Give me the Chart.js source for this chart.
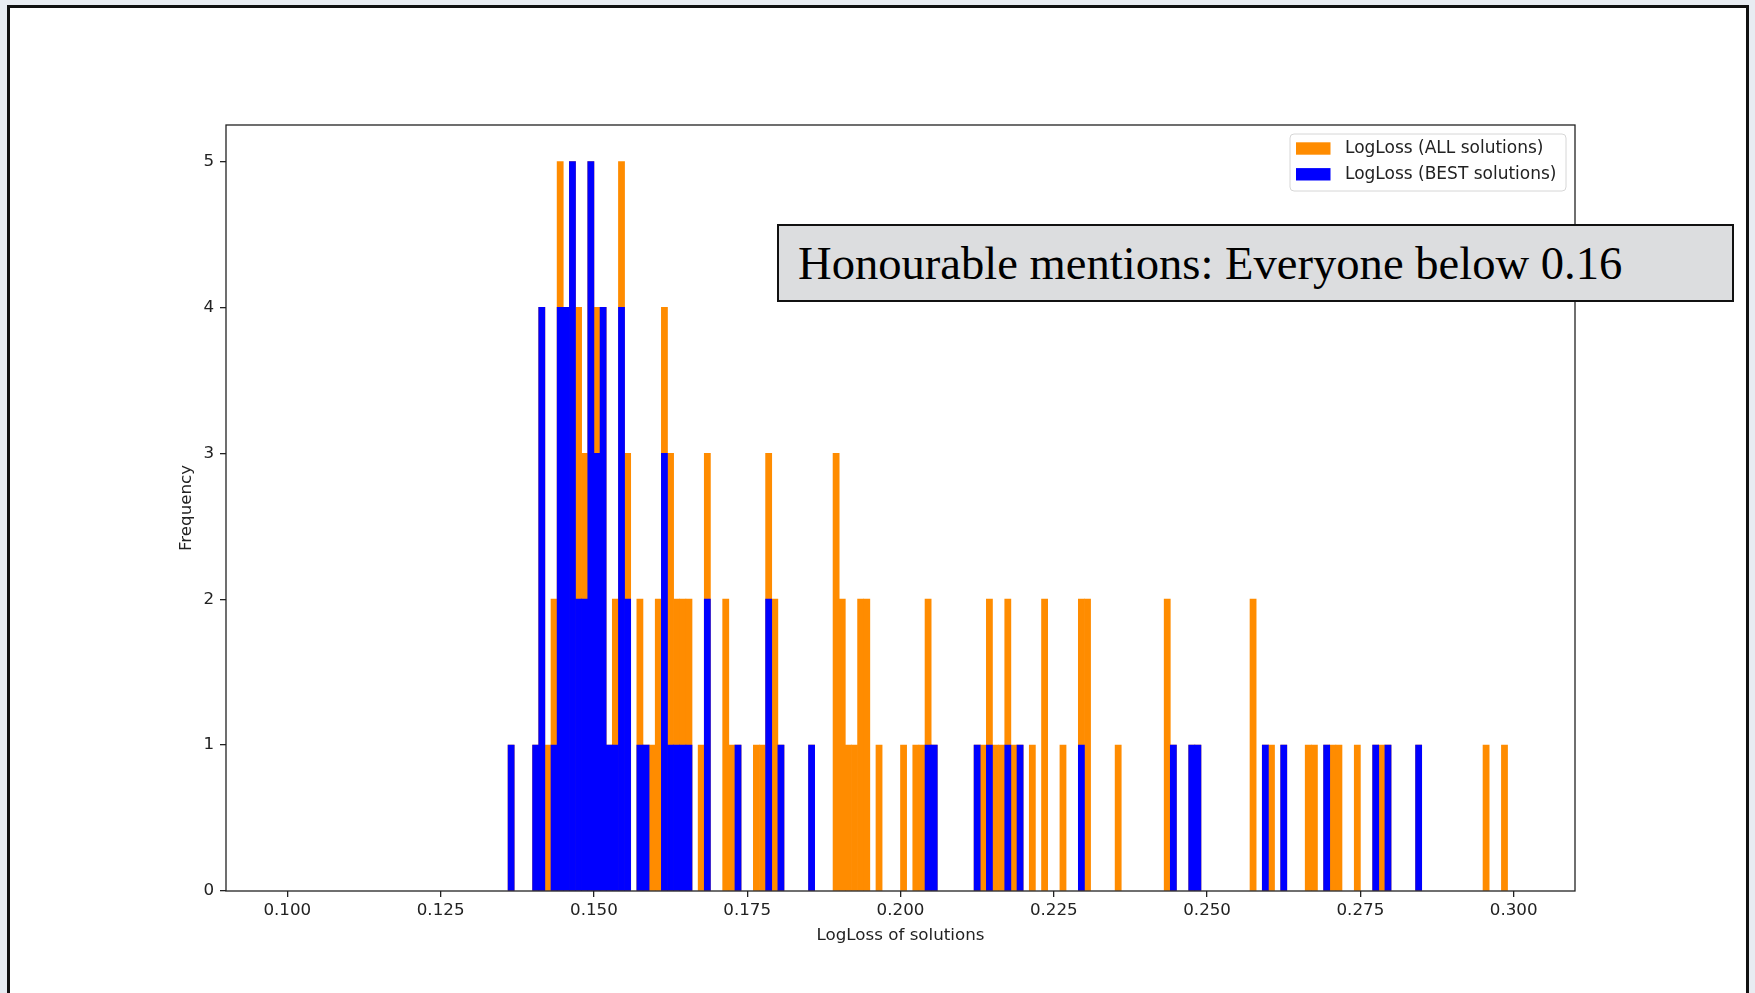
<!DOCTYPE html>
<html>
<head>
<meta charset="utf-8">
<title>LogLoss of solutions</title>
<script src="https://cdn.jsdelivr.net/npm/chart.js@4.4.0/dist/chart.umd.min.js"></script>
<style>
  html, body { margin: 0; padding: 0; }
  body {
    width: 1755px; height: 993px; position: relative; overflow: hidden;
    background: #e8ecf2;
  }
  #frame {
    position: absolute; left: 7px; top: 5px; width: 1742px; height: 1000px;
    box-sizing: border-box; border: 3px solid #111; background: #fff;
  }
  #chart { position: absolute; left: 0; top: 0; }
  #note {
    position: absolute; left: 777px; top: 224px; width: 957px; height: 78px;
    box-sizing: border-box; border: 2px solid #111; background: #dcdddf;
    font-family: "Liberation Serif", "DejaVu Serif", serif; font-size: 46.6px;
    line-height: 74px; padding-left: 19px; color: #000; white-space: nowrap;
    z-index: 2;
  }
</style>
</head>
<body>
<div id="frame"></div>
<canvas id="chart" width="1755" height="993"></canvas>
<div id="note">Honourable mentions: Everyone below 0.16</div>

<script>
// Histogram bins are 0.001 wide; each entry below is the lower edge of a non-empty bin.
const BIN_WIDTH = 0.001;

const allBinStarts = [
  0.136, 0.140, 0.141, 0.142, 0.143, 0.144, 0.145, 0.146, 0.147, 0.148,
  0.149, 0.150, 0.151, 0.152, 0.153, 0.154, 0.155, 0.157, 0.158, 0.159,
  0.160, 0.161, 0.162, 0.163, 0.164, 0.165, 0.167, 0.168, 0.171, 0.172,
  0.173, 0.176, 0.177, 0.178, 0.179, 0.180, 0.185, 0.189, 0.190, 0.191,
  0.192, 0.193, 0.194, 0.196, 0.200, 0.202, 0.203, 0.204, 0.205, 0.212,
  0.213, 0.214, 0.215, 0.216, 0.217, 0.218, 0.219, 0.221, 0.223, 0.226,
  0.229, 0.230, 0.235, 0.243, 0.244, 0.247, 0.248, 0.257, 0.259, 0.260,
  0.262, 0.266, 0.267, 0.269, 0.270, 0.271, 0.274, 0.277, 0.278, 0.279,
  0.284, 0.295, 0.298
];
const allCounts = [
  1, 1, 4, 1, 2, 5, 4, 5, 4, 3,
  5, 4, 4, 1, 2, 5, 3, 2, 1, 1,
  2, 4, 3, 2, 2, 2, 1, 3, 2, 1,
  1, 1, 1, 3, 2, 1, 1, 3, 2, 1,
  1, 2, 2, 1, 1, 1, 1, 2, 1, 1,
  1, 2, 1, 1, 2, 1, 1, 1, 2, 1,
  2, 2, 1, 2, 1, 1, 1, 2, 1, 1,
  1, 1, 1, 1, 1, 1, 1, 1, 1, 1,
  1, 1, 1
];

const bestBinStarts = [
  0.136, 0.140, 0.141, 0.143, 0.144, 0.145, 0.146, 0.147, 0.148, 0.149,
  0.150, 0.151, 0.152, 0.153, 0.154, 0.155, 0.157, 0.158, 0.161, 0.162,
  0.163, 0.164, 0.165, 0.168, 0.173, 0.178, 0.180, 0.185, 0.204, 0.205,
  0.212, 0.214, 0.217, 0.219, 0.229, 0.244, 0.247, 0.248, 0.259, 0.262,
  0.269, 0.277, 0.279, 0.284
];
const bestCounts = [
  1, 1, 4, 1, 4, 4, 5, 2, 2, 5,
  3, 4, 1, 1, 4, 2, 1, 1, 3, 1,
  1, 1, 1, 2, 1, 2, 1, 1, 1, 1,
  1, 1, 1, 1, 1, 1, 1, 1, 1, 1,
  1, 1, 1, 1
];

const seriesLabels = ['LogLoss (ALL solutions)', 'LogLoss (BEST solutions)'];
const seriesColors = ['#ff8c00', '#0000ff'];
const xTickValues = [0.100, 0.125, 0.150, 0.175, 0.200, 0.225, 0.250, 0.275, 0.300];
const yTickValues = [0, 1, 2, 3, 4, 5];
const xAxisTitle = 'LogLoss of solutions';
const yAxisTitle = 'Frequency';

const toBars = (starts, counts) =>
  starts.map((s, i) => ({ x: s + BIN_WIDTH / 2, y: counts[i] }));

const INK = '#222';
const TICK_FONT = { family: 'DejaVu Sans', size: 16.7 };

// Spines, axis titles and the boxed legend in the upper right of the plot.
const decorations = {
  id: 'decorations',
  afterDatasetsDraw(chart) {
    const { ctx, chartArea: a } = chart;
    ctx.save();
    ctx.strokeStyle = INK;
    ctx.lineWidth = 1.3;
    ctx.strokeRect(a.left, a.top, a.right - a.left, a.bottom - a.top);

    ctx.fillStyle = INK;
    ctx.font = '16.7px "DejaVu Sans"';
    ctx.textAlign = 'center';
    ctx.textBaseline = 'alphabetic';
    ctx.fillText(xAxisTitle, (a.left + a.right) / 2, a.bottom + 49);

    ctx.save();
    ctx.translate(a.left - 39, (a.top + a.bottom) / 2);
    ctx.rotate(-Math.PI / 2);
    ctx.textBaseline = 'middle';
    ctx.fillText(yAxisTitle, 0, 0);
    ctx.restore();

    // legend
    const lx = a.right - 285, ly = a.top + 9, lw = 276, lh = 57;
    ctx.beginPath();
    ctx.roundRect(lx, ly, lw, lh, 4);
    ctx.fillStyle = 'rgba(255,255,255,0.85)';
    ctx.fill();
    ctx.strokeStyle = '#d6d6d6';
    ctx.lineWidth = 1;
    ctx.stroke();

    ctx.font = '17px "DejaVu Sans"';
    ctx.textAlign = 'left';
    ctx.textBaseline = 'middle';
    chart.data.datasets.forEach((ds, i) => {
      const cy = ly + 14.5 + i * 25.8;
      ctx.fillStyle = ds.backgroundColor;
      ctx.fillRect(lx + 6, cy - 6.2, 34.5, 12.4);
      ctx.fillStyle = INK;
      ctx.fillText(ds.label, lx + 55, cy + 0.5);
    });
    ctx.restore();
  }
};

new Chart(document.getElementById('chart'), {
  type: 'bar',
  data: {
    datasets: [
      {
        label: seriesLabels[0],
        data: toBars(allBinStarts, allCounts),
        backgroundColor: seriesColors[0],
        order: 1
      },
      {
        label: seriesLabels[1],
        data: toBars(bestBinStarts, bestCounts),
        backgroundColor: seriesColors[1],
        order: 0
      }
    ]
  },
  options: {
    responsive: false,
    animation: false,
    devicePixelRatio: 1,
    layout: { padding: { left: 0, top: 125, right: 180, bottom: 0 } },
    datasets: {
      bar: {
        grouped: false,
        barPercentage: 1,
        categoryPercentage: 1,
        borderWidth: 0
      }
    },
    plugins: {
      legend: { display: false },
      tooltip: { enabled: false },
      title: { display: false }
    },
    scales: {
      x: {
        type: 'linear',
        offset: false,
        min: 0.09,
        max: 0.31,
        afterFit: s => { s.height = 102; },
        afterBuildTicks: s => { s.ticks = xTickValues.map(v => ({ value: v })); },
        border: { display: false },
        grid: {
          offset: false,
          drawOnChartArea: false, drawTicks: true, tickLength: 6,
          color: INK, lineWidth: 1.3
        },
        ticks: {
          font: TICK_FONT, color: INK, padding: 4, maxRotation: 0,
          callback: v => Number(v).toFixed(3)
        }
      },
      y: {
        type: 'linear',
        min: 0,
        max: 5.25,
        afterFit: s => { s.width = 226; },
        afterBuildTicks: s => { s.ticks = yTickValues.map(v => ({ value: v })); },
        border: { display: false },
        grid: {
          drawOnChartArea: false, drawTicks: true, tickLength: 6,
          color: INK, lineWidth: 1.3
        },
        ticks: {
          font: TICK_FONT, color: INK, padding: 6,
          callback: v => String(v)
        }
      }
    }
  },
  plugins: [decorations]
});
</script>
</body>
</html>
